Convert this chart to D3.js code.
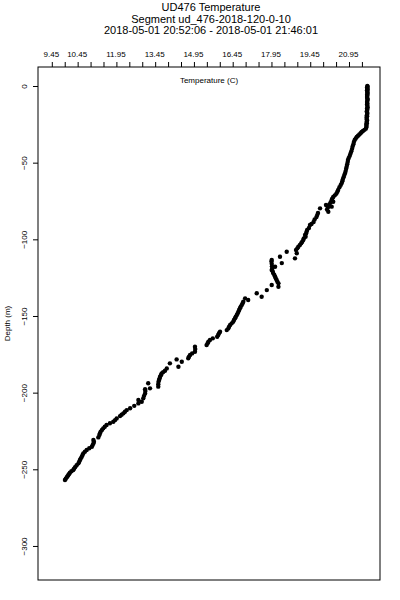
<!DOCTYPE html>
<html>
<head>
<meta charset="utf-8">
<script src="https://cdn.jsdelivr.net/npm/d3@7"></script>
<style>
  html, body { margin: 0; padding: 0; background: #fff; }
  svg { display: block; font-family: "Liberation Sans", Arial, sans-serif; }
</style>
</head>
<body>
<svg></svg>
<script>
var titleLines = [
    "UD476 Temperature",
    "Segment ud_476-2018-120-0-10",
    "2018-05-01 20:52:06 - 2018-05-01 21:46:01"
];

var depth = [
    0, -0.5, -1.0, -1.6, -2.2, -2.8, -3.5, -4.2, -5.0, -5.7, -6.4, -7.2, -8.0, -8.8, -9.6,
    -10.4, -11.2, -12.0, -12.9, -13.8, -14.6, -15.5, -16.4, -17.2, -18.1, -19.0, -19.8,
    -20.7, -21.6, -22.5, -23.4, -24.3, -25.2, -26.1, -27.0, -27.8, -28.6, -29.3, -30.0,
    -30.8, -31.6, -32.4, -33.3, -34.2, -35.2, -36.5, -38.0, -39.5, -41.0, -42.5, -44.0,
    -45.5, -47.0, -48.3, -49.5, -51.0, -52.6, -54.0, -55.5, -56.8, -58.0, -59.5, -61.0,
    -62.2, -63.3, -64.5, -66.0, -67.8, -69.0, -70.2, -71.3, -72.4, -73.5, -74.4, -75.5,
    -75.8, -77.2, -77.6, -78.7, -79.0, -79.8, -80.5, -82.0, -82.8, -84.2, -85.5, -87.0,
    -88.7, -90.0, -90.7, -92.6, -93.9, -95.0, -96.2, -97.2, -98.3, -99.5, -100.5, -101.5,
    -102.6, -103.7, -104.8, -105.9, -107.0, -108.1, -109.1, -111.4, -112.4, -113.5, -114.5,
    -115.5, -116.0, -117.5, -117.9, -119.0, -120.0, -121.0, -122.2, -123.3, -124.4, -125.5,
    -126.5, -127.6, -128.7, -129.8, -130.9, -133.1, -135.2, -137.5, -138.5, -139.6, -140.7,
    -141.8, -142.9, -144.0, -145.0, -146.1, -147.2, -148.3, -149.4, -150.5, -151.5, -152.6,
    -153.7, -154.8, -155.9, -157.0, -158.1, -159.2, -160.3, -161.3, -162.4, -163.5, -164.6,
    -165.7, -166.8, -167.8, -169.0, -170.0, -171.6, -173.3, -174.4, -175.4, -176.5, -177.6,
    -178.3, -179.8, -180.9, -183.1, -184.2, -185.7, -186.6, -187.5, -188.6, -189.6, -190.7,
    -191.8, -192.9, -193.9, -194.5, -196.1, -197.2, -197.8, -199.0, -200.5, -202.1, -203.7,
    -204.8, -205.9, -207.0, -208.6, -210.2, -211.4, -212.5, -213.5, -214.4, -215.3, -216.8,
    -217.9, -219.0, -220.0, -221.1, -222.2, -223.3, -224.4, -225.5, -226.6, -227.7, -229.2,
    -230.9, -232.0, -233.1, -234.2, -235.3, -236.3, -237.4, -238.5, -239.6, -240.7, -241.8,
    -242.9, -243.9, -245.0, -246.1, -247.4, -248.7, -249.6, -250.5, -251.3, -252.2, -253.0,
    -253.7, -254.5, -255.2, -256.2, -257.0
];

var temperature = [
    21.66, 21.67, 21.65, 21.66, 21.67, 21.65, 21.66, 21.66, 21.67, 21.65, 21.66, 21.65, 21.66, 21.67, 21.66,
    21.65, 21.66, 21.65, 21.66, 21.67, 21.65, 21.66, 21.64, 21.65, 21.66, 21.64, 21.65,
    21.63, 21.64, 21.65, 21.63, 21.64, 21.62, 21.63, 21.62, 21.60, 21.55, 21.49, 21.44,
    21.40, 21.35, 21.30, 21.25, 21.21, 21.17, 21.14, 21.12, 21.09, 21.07, 21.04, 21.01,
    20.98, 20.94, 20.91, 20.90, 20.88, 20.86, 20.84, 20.82, 20.80, 20.77, 20.74, 20.71,
    20.69, 20.67, 20.63, 20.58, 20.53, 20.50, 20.46, 20.40, 20.34, 20.30, 20.28, 20.34,
    20.24, 20.19, 20.06, 20.28, 20.14, 19.83, 20.10, 20.15, 19.75, 19.72, 19.69, 19.62,
    19.58, 19.50, 19.44, 19.40, 19.33, 19.31, 19.29, 19.25, 19.27, 19.20, 19.18, 19.14,
    19.10, 19.05, 18.99, 18.95, 18.90, 18.54, 18.93, 18.28, 18.86, 17.96, 17.95,
    18.35, 17.96, 17.97, 18.09, 17.98, 17.96, 18.00, 18.02, 18.06, 18.09, 18.12,
    18.15, 18.18, 18.22, 17.96, 18.22, 17.77, 17.38, 17.57, 16.93, 17.05, 16.86,
    16.83, 16.80, 16.76, 16.73, 16.70, 16.67, 16.64, 16.61, 16.57, 16.54, 16.50,
    16.47, 16.41, 16.35, 16.31, 16.28, 16.22, 15.96, 15.92, 15.89, 15.85, 15.68,
    15.57, 15.51, 15.48, 15.44, 14.99, 15.00, 14.99, 14.88, 14.80, 14.76, 14.73,
    14.28, 14.48, 14.02, 14.35, 13.90, 13.83, 13.76, 13.70, 13.67, 13.64, 13.62,
    13.60, 13.58, 13.18, 13.57, 13.57, 13.25, 13.06, 13.07, 13.06, 13.02, 12.99,
    12.80, 12.93, 12.80, 12.64, 12.48, 12.35, 12.28, 12.22, 12.15, 12.09, 11.96,
    11.90, 11.83, 11.70, 11.57, 11.50, 11.44, 11.39, 11.34, 11.31, 11.29, 11.25,
    11.06, 11.08, 11.06, 11.03, 11.00, 10.90, 10.80, 10.73, 10.67, 10.64, 10.61,
    10.57, 10.54, 10.51, 10.48, 10.41, 10.35, 10.31, 10.28, 10.21, 10.15, 10.12,
    10.09, 10.06, 10.03, 9.99, 9.96
];

var tempTicks = [9.45, 9.95, 10.45, 10.95, 11.45, 11.95, 12.45, 12.95, 13.45, 13.95, 14.45, 14.95,
    15.45, 15.95, 16.45, 16.95, 17.45, 17.95, 18.45, 18.95, 19.45, 19.95, 20.45, 20.95, 21.45];
var tempLabels = ["9.45", "10.45", "11.95", "13.45", "14.95", "16.45", "17.95", "19.45", "20.95"];
var depthTicks = [0, -50, -100, -150, -200, -250, -300];

var width = 400;
var height = 600;
var margin = {
    top: 67,
    right: 20,
    bottom: 20,
    left: 38
};
var innerWidth = width - margin.left - margin.right;
var innerHeight = height - margin.top - margin.bottom;

var svg = d3.select('svg')
    .attr('width', width)
    .attr('height', height);

// titles
svg.selectAll('text.title').data(titleLines)
    .enter().append('text')
    .attr('class', 'title')
    .attr('x', 211)
    .attr('y', (d, i) => 11 + i * 11.5)
    .attr('text-anchor', 'middle')
    .attr('font-size', 11)
    .text(d => d);

var g = svg.append('g')
    .attr('transform', `translate(${margin.left},${margin.top})`);

var x = d3.scaleLinear().domain([8.916, 22.15]).range([0, innerWidth]);
var y = d3.scaleLinear().domain([12.4, -322.2]).range([0, innerHeight]);

var xAxis = d3.axisTop(x)
    .tickValues(tempTicks)
    .tickSize(5)
    .tickPadding(5)
    .tickFormat(d => {
        var s = d.toFixed(2);
        return tempLabels.indexOf(s) >= 0 ? s : '';
    });

var gx = g.append('g').call(xAxis);
gx.select('.domain').remove();
gx.selectAll('text')
    .attr('font-size', 8)
    .attr('font-family', 'Liberation Sans, Arial, sans-serif')
    .attr('dx', '-1');
// R skips the labels that would overlap, drop the empty ones
gx.selectAll('text').filter(function () { return this.textContent === ''; }).remove();

var yAxis = d3.axisLeft(y)
    .tickValues(depthTicks)
    .tickSize(5)
    .tickFormat(d3.format('d'));

var gy = g.append('g').call(yAxis);
gy.select('.domain').remove();
gy.selectAll('text')
    .attr('font-size', 8)
    .attr('font-family', 'Liberation Sans, Arial, sans-serif')
    .attr('transform', 'rotate(-90)')
    .attr('x', 0)
    .attr('y', -11)
    .attr('dy', '0')
    .attr('text-anchor', 'middle');

g.append('rect')
    .attr('width', innerWidth)
    .attr('height', innerHeight)
    .attr('fill', 'none')
    .attr('stroke', '#000')
    .attr('stroke-width', 1);

// axis titles
g.append('text')
    .attr('x', innerWidth / 2)
    .attr('y', 16)
    .attr('text-anchor', 'middle')
    .attr('font-size', 8)
    .text('Temperature (C)');

svg.append('text')
    .attr('transform', `translate(10,${margin.top + innerHeight / 2}) rotate(-90)`)
    .attr('text-anchor', 'middle')
    .attr('font-size', 8)
    .text('Depth (m)');

// points
g.selectAll('circle').data(depth)
    .enter().append('circle')
    .attr('cx', (d, i) => x(temperature[i]))
    .attr('cy', d => y(d))
    .attr('r', 2.2)
    .attr('fill', '#000');
</script>
</body>
</html>
